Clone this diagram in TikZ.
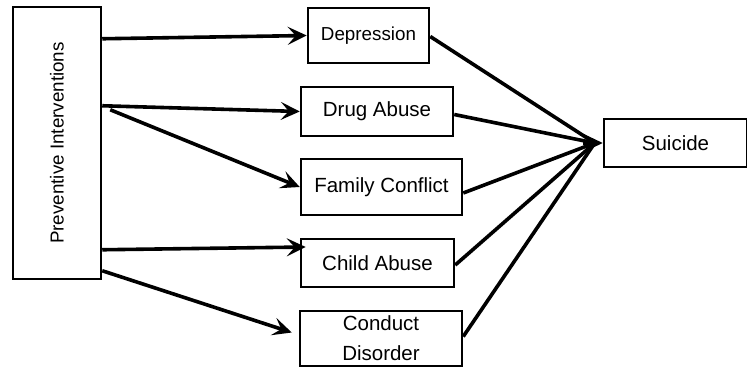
\documentclass[tikz,border=0pt]{standalone}
\usepackage{fontspec}
\setmainfont{Liberation Sans}
\usetikzlibrary{arrows.meta}
\begin{document}
\begin{tikzpicture}[x=1pt,y=-1pt,
  box/.style={draw,line width=2.5pt,inner sep=0pt,align=center,font=\fontsize{20.5}{30}\selectfont},
  arr/.style={line width=3.6pt,-{Stealth[length=19pt,width=18pt,inset=8pt]}},
  ln/.style={line width=3.6pt}]
\useasboundingbox (0,0) rectangle (747,368);
\node[box,minimum width=88pt,minimum height=272pt] (pi) at (57,143) {};
\node[rotate=90,font=\fontsize{18.8}{22}\selectfont] (pitext) at (57,143) {Preventive Interventions};
\node[box,minimum width=121pt,minimum height=55pt,font=\fontsize{18.8}{22}\selectfont] (dep) at (368.5,35.5) {Depression};
\node[box,minimum width=152pt,minimum height=49pt] (drug) at (377,111.5) {Drug Abuse};
\node[box,minimum width=161pt,minimum height=56pt] (fam) at (381.5,187) {Family Conflict};
\node[box,minimum width=153pt,minimum height=48pt] (child) at (377.5,263) {Child Abuse};
\node[box,minimum width=162pt,minimum height=55pt] (cond) at (381,338.5) {Conduct\\Disorder};
\node[box,minimum width=143pt,minimum height=48pt] (sui) at (675.5,143) {Suicide};
\draw[arr] ([yshift=-33pt]pi.north east) -- (dep.west);
\draw[arr] ([yshift=-100pt]pi.north east) -- (drug.west);
\draw[arr] ([xshift=8pt,yshift=-104pt]pi.north east) -- (fam.west);
\draw[arr] ([yshift=-244pt]pi.north east) -- ([xshift=6pt,yshift=16pt]child.west);
\draw[arr] ([yshift=-265pt]pi.north east) -- ([xshift=-7pt,yshift=6pt]cond.west);
\draw[ln] ([yshift=-1pt]dep.east) -- ([xshift=-8pt]sui.west);
\draw[ln] ([yshift=-3pt]drug.east) -- ([xshift=-8pt]sui.west);
\draw[ln] ([yshift=-6pt]fam.east) -- ([xshift=-8pt]sui.west);
\draw[ln] ([yshift=-2pt]child.east) -- ([xshift=-8pt]sui.west);
\draw[ln] ([yshift=2pt]cond.east) -- ([xshift=-8pt]sui.west);
\path (sui.west) ++(-20pt,0) coordinate (tipbase);
\draw[arr] (tipbase) -- (sui.west);
\end{tikzpicture}
\end{document}
